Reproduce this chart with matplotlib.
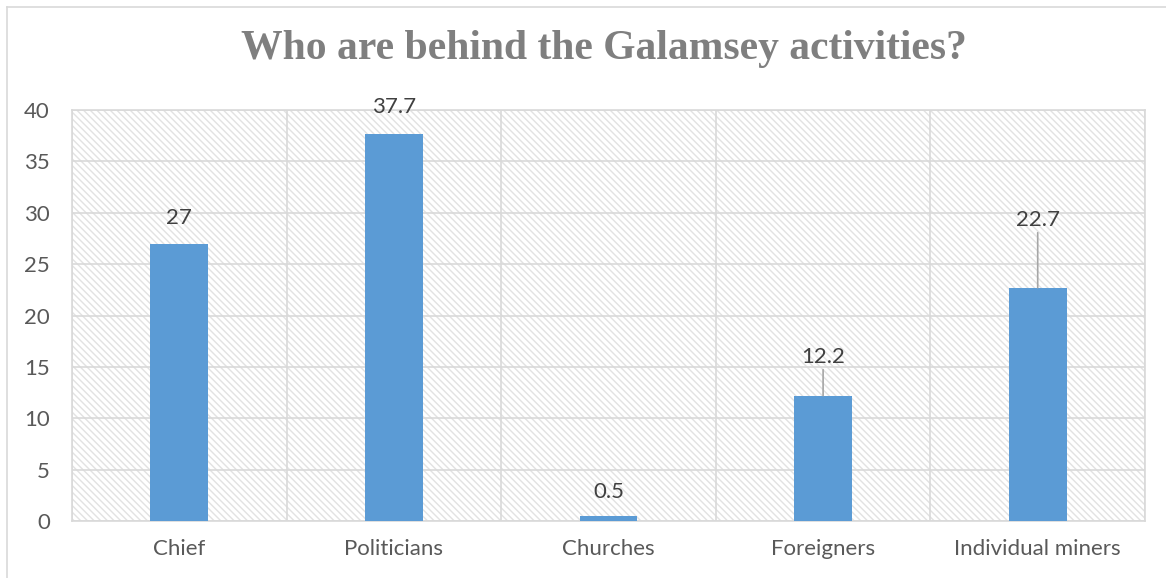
import matplotlib.pyplot as plt
from matplotlib.lines import Line2D
import numpy as np

# survey responses (percent)
categories = ["Chief", "Politicians", "Churches", "Foreigners", "Individual miners"]
values = [27, 37.7, 0.5, 12.2, 22.7]
value_labels = ["27", "37.7", "0.5", "12.2", "22.7"]
yticks = [0, 5, 10, 15, 20, 25, 30, 35, 40]

# label offset above bar top in pixels, and whether a leader line is drawn
label_offsets = [26, 27, 24, 39, 68]
leaders = [False, False, False, True, True]

W, H = 1166, 578
fig = plt.figure(figsize=(W / 100, H / 100), dpi=100)
fig.patch.set_facecolor("white")

txt_color = "#595959"
grid_color = "#d9d9d9"
bar_color = "#5b9bd5"
font = ["Lato", "DejaVu Sans"]
fs = 16

# chart area frame (left and top edges visible)
fig.add_artist(Line2D([7 / W, 7 / W], [0, 1 - 7 / H], color=grid_color, lw=1.2))
fig.add_artist(Line2D([7 / W, 1], [1 - 7 / H, 1 - 7 / H], color=grid_color, lw=1.2))

left, right, top, bottom = 72, 1145, 110, 521
ax = fig.add_axes([left / W, (H - bottom) / H, (right - left) / W, (bottom - top) / H])

# patterned plot background
plt.rcParams["hatch.linewidth"] = 1.2
ax.set_facecolor("white")
ax.patch.set_edgecolor("#e2e2e2")
ax.patch.set_hatch("\\\\\\\\\\")
ax.patch.set_linewidth(0)

x = np.arange(len(categories))
bars = ax.bar(x, values, width=0.27, color=bar_color, zorder=3)

ax.set_xlim(-0.5, len(categories) - 0.5)
ax.set_ylim(0, 40)
ax.set_yticks(yticks)
ax.set_yticklabels([str(v) for v in yticks], fontsize=fs, color=txt_color, family=font)
ax.set_xticks(x)
ax.set_xticklabels(categories, fontsize=fs, color=txt_color, family=font)
ax.set_xticks(np.arange(len(categories) + 1) - 0.5, minor=True)

ax.tick_params(axis="both", which="both", length=0)
ax.tick_params(axis="y", pad=16)
ax.tick_params(axis="x", pad=13)
ax.grid(axis="y", which="major", color=grid_color, lw=1.2, zorder=1)
ax.grid(axis="x", which="minor", color=grid_color, lw=1.2, zorder=1)
ax.set_axisbelow(True)
for s in ax.spines.values():
    s.set_color(grid_color)
    s.set_linewidth(1.2)

for b, v, lab, off, lead in zip(bars, values, value_labels, label_offsets, leaders):
    cx = b.get_x() + b.get_width() / 2
    ax.annotate(lab, (cx, v), xytext=(0, off), textcoords="offset pixels",
                ha="center", va="center", fontsize=fs, color="#404040",
                family=font, annotation_clip=False, zorder=5)
    if lead:
        ax.annotate("", (cx, v), xytext=(0, off - 13), textcoords="offset pixels",
                    arrowprops=dict(arrowstyle="-", color="#a6a6a6", lw=1.2,
                                    shrinkA=0, shrinkB=0),
                    annotation_clip=False, zorder=4)

fig.text(604 / W, 1 - 49 / H, "Who are behind the Galamsey activities?",
         ha="center", va="center", fontsize=30, fontweight="bold",
         color="#7f7f7f", family="Liberation Serif")

fig.savefig("out.png", dpi=100)
